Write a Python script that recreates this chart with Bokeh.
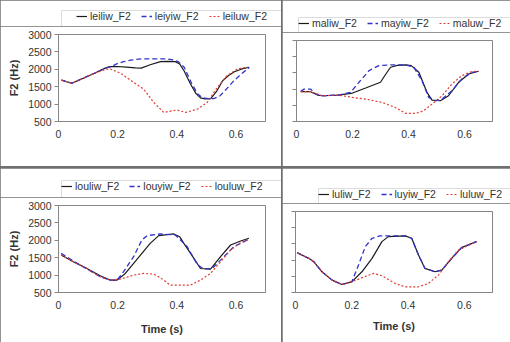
from bokeh.plotting import figure
from bokeh.models import Range1d, FixedTicker, Legend, LegendItem
from bokeh.layouts import column, row
from bokeh.embed import file_html
from bokeh.resources import INLINE

# ---------------- data ----------------
x_ticks = [0, 0.2, 0.4, 0.6]
y_ticks = [500, 1000, 1500, 2000, 2500, 3000]

# lei panel
lei_iw_t = [0.01,0.045,0.08,0.12,0.16,0.175,0.2,0.23,0.26,0.28,0.31,0.345,0.37,0.395,0.41,0.425,0.445,0.465,0.48,0.495,0.515,0.535,0.555,0.575,0.595,0.62,0.645]
lei_iw   = [1690,1600,1730,1880,2040,2075,2080,2060,2040,2035,2130,2220,2230,2220,2150,1950,1600,1300,1180,1150,1160,1370,1670,1820,1930,2010,2060]
lei_yi_t = [0.01,0.045,0.08,0.12,0.16,0.18,0.2,0.22,0.25,0.28,0.32,0.367,0.39,0.405,0.425,0.45,0.47,0.485,0.505,0.525,0.545,0.57,0.593,0.62,0.645]
lei_yi   = [1690,1600,1730,1880,2040,2080,2170,2220,2270,2300,2300,2300,2270,2220,2060,1600,1300,1190,1160,1160,1230,1450,1670,1880,2050]
lei_lu_t = [0.01,0.045,0.08,0.12,0.16,0.175,0.21,0.254,0.288,0.322,0.356,0.38,0.40,0.43,0.47,0.503,0.537,0.57,0.605,0.64]
lei_lu   = [1690,1600,1730,1880,2000,2010,1885,1625,1430,1050,760,800,830,760,856,1050,1480,1817,2010,2060]

# ma panel
ma_iw_t = [0.015,0.05,0.075,0.093,0.15,0.2,0.247,0.3,0.318,0.336,0.36,0.39,0.41,0.437,0.466,0.484,0.514,0.543,0.579,0.615,0.65]
ma_iw   = [1420,1420,1316,1295,1316,1378,1533,1710,1950,2174,2230,2246,2226,2019,1400,1161,1140,1295,1710,1967,2050]
ma_yi_t = [0.015,0.027,0.05,0.069,0.093,0.15,0.193,0.223,0.259,0.294,0.33,0.39,0.419,0.448,0.472,0.496,0.52,0.555,0.59,0.626,0.65]
ma_yi   = [1430,1500,1500,1347,1295,1316,1400,1710,2070,2225,2246,2246,2174,1760,1244,1140,1192,1450,1810,2019,2050]
ma_lu_t = [0.015,0.05,0.093,0.15,0.2,0.247,0.306,0.353,0.39,0.425,0.454,0.484,0.52,0.555,0.59,0.626,0.65]
ma_lu   = [1420,1420,1295,1316,1244,1192,1089,934,748,748,830,1037,1295,1657,1915,2040,2050]

# lou panel
lou_iw_t = [0.009,0.05,0.096,0.141,0.175,0.198,0.226,0.266,0.31,0.339,0.39,0.41,0.424,0.458,0.48,0.514,0.548,0.582,0.616,0.644]
lou_iw   = [1577,1385,1190,981,856,856,1048,1462,1913,2135,2183,2100,1913,1481,1190,1173,1530,1865,1980,2058]
lou_yi_t = [0.009,0.05,0.096,0.141,0.175,0.198,0.22,0.254,0.282,0.3,0.345,0.395,0.435,0.469,0.49,0.52,0.554,0.593,0.644]
lou_yi   = [1625,1404,1180,952,856,856,1096,1529,2010,2135,2183,2154,1817,1308,1173,1192,1481,1817,2030]
lou_lu_t = [0.009,0.05,0.096,0.141,0.175,0.209,0.254,0.288,0.322,0.345,0.378,0.412,0.446,0.48,0.514,0.548,0.582,0.616,0.644]
lou_lu   = [1577,1385,1190,952,856,885,1000,1048,1029,923,712,712,712,856,1048,1385,1721,1933,2030]

# lu panel
lu_iw_t = [0.006,0.047,0.065,0.094,0.13,0.165,0.2,0.236,0.272,0.307,0.33,0.39,0.413,0.437,0.46,0.496,0.52,0.555,0.59,0.643]
lu_iw   = [1729,1554,1450,1140,882,748,830,1140,1554,2070,2225,2246,2174,1657,1244,1140,1192,1554,1884,2070]
lu_yi_t = [0.006,0.047,0.065,0.094,0.13,0.165,0.2,0.224,0.248,0.272,0.3,0.39,0.413,0.437,0.46,0.496,0.52,0.555,0.59,0.643]
lu_yi   = [1729,1554,1450,1140,882,748,830,1347,1915,2174,2246,2246,2174,1657,1244,1140,1192,1554,1884,2070]
lu_lu_t = [0.006,0.047,0.065,0.094,0.13,0.165,0.2,0.236,0.277,0.307,0.354,0.39,0.437,0.472,0.508,0.543,0.579,0.643]
lu_lu   = [1729,1554,1450,1140,882,748,830,954,1089,1017,779,676,676,779,1037,1450,1810,2070]

FONT = "Liberation Sans"
TXT = "#333333"
AX = "#868686"

STYLES = [
    dict(line_color="#1a1a1a", line_width=1.2, line_dash="solid"),
    dict(line_color="#3333cc", line_width=1.3, line_dash="5 3"),
    dict(line_color="#e03c31", line_width=1.2, line_dash="2 2"),
]


def make_legend_fig(w, h, series, names, left, top, loc="top_left"):
    # a strip that only shows the legend; its lines lie outside its visible range
    q = figure(width=w, height=h, output_backend="svg", toolbar_location=None,
               x_range=Range1d(0, 0.7), y_range=Range1d(-20, -10),
               x_axis_location=None, y_axis_location=None,
               min_border_left=left, min_border_top=top, min_border_right=0, min_border_bottom=0,
               background_fill_color="white", border_fill_color="white")
    q.outline_line_color = None
    q.xgrid.visible = False
    q.ygrid.visible = False
    items = []
    for (tt, yy), nm, st in zip(series, names, STYLES):
        r = q.line(tt, yy, **st)
        items.append(LegendItem(label=nm, renderers=[r]))
    leg = Legend(items=items, location=loc, orientation="horizontal",
                 glyph_width=11, glyph_height=12, label_height=12,
                 label_standoff=3, spacing=10, padding=0, margin=0,
                 border_line_color=None, background_fill_alpha=0,
                 label_text_font=FONT, label_text_font_size="10.5px",
                 label_text_color=TXT)
    q.add_layout(leg, "center")
    return q


def make_panel(w, h, ml, mr, mt, mb, series, show_ylabels, show_xlabel, xlab_standoff=10):
    p = figure(width=w, height=h, output_backend="svg", toolbar_location=None,
               x_range=Range1d(0, 0.7), y_range=Range1d(500, 3000),
               min_border_left=ml, min_border_right=mr, min_border_top=mt, min_border_bottom=mb,
               background_fill_color="white", border_fill_color="white")
    p.outline_line_color = AX
    p.outline_line_width = 1
    p.xgrid.visible = False
    p.ygrid.visible = False

    p.xaxis.ticker = FixedTicker(ticks=x_ticks)
    p.xaxis.major_label_overrides = {0: "0", 0.2: "0.2", 0.4: "0.4", 0.6: "0.6"}
    p.xaxis.major_tick_out = 0
    p.xaxis.major_tick_in = 0
    p.xaxis.minor_tick_out = 0
    p.xaxis.minor_tick_in = 0
    p.xaxis.major_label_standoff = 8
    p.xaxis.axis_line_color = AX

    p.yaxis.ticker = FixedTicker(ticks=y_ticks)
    p.yaxis.major_tick_out = 4
    p.yaxis.major_tick_in = 0
    p.yaxis.minor_tick_out = 0
    p.yaxis.minor_tick_in = 0
    p.yaxis.major_tick_line_color = AX
    p.yaxis.axis_line_color = AX
    p.yaxis.major_label_standoff = 3

    for ax in (p.xaxis, p.yaxis):
        ax.major_label_text_font = FONT
        ax.major_label_text_font_size = "10.5px"
        ax.major_label_text_color = TXT
        ax.axis_label_text_font = FONT
        ax.axis_label_text_font_size = "11px"
        ax.axis_label_text_font_style = "bold"
        ax.axis_label_text_color = TXT

    if show_ylabels:
        p.yaxis.axis_label = "F2 (Hz)"
        p.yaxis.axis_label_standoff = 5
    else:
        p.yaxis.major_label_overrides = {t: "" for t in y_ticks}
        p.yaxis.major_label_standoff = 0

    if show_xlabel:
        p.xaxis.axis_label = "Time (s)"
        p.xaxis.axis_label_standoff = xlab_standoff

    for (tt, yy), st in zip(series, STYLES):
        p.line(tt, yy, **st)
    return p


s1 = [(lei_iw_t, lei_iw), (lei_yi_t, lei_yi), (lei_lu_t, lei_lu)]
s2 = [(ma_iw_t, ma_iw), (ma_yi_t, ma_yi), (ma_lu_t, ma_lu)]
s3 = [(lou_iw_t, lou_iw), (lou_yi_t, lou_yi), (lou_lu_t, lou_lu)]
s4 = [(lu_iw_t, lu_iw), (lu_yi_t, lu_yi), (lu_lu_t, lu_lu)]

l1 = make_legend_fig(281, 26, s1, ["leiliw_F2", "leiyiw_F2", "leiluw_F2"], 61, 10, (15, 4))
p1 = make_panel(281, 140, 58, 16, 8, 45, s1, True, False)
l2 = make_legend_fig(228, 32, s2, ["maliw_F2", "mayiw_F2", "maluw_F2"], 16, 17)
p2 = make_panel(228, 134, 14, 18, 8, 45, s2, False, False)
l3 = make_legend_fig(281, 29, s3, ["louliw_F2", "louyiw_F2", "louluw_F2"], 61, 12)
p3 = make_panel(281, 145, 58, 16, 8, 50, s3, True, True, 11)
l4 = make_legend_fig(228, 35, s4, ["luliw_F2", "luyiw_F2", "luluw_F2"], 36, 20)
p4 = make_panel(228, 139, 13, 18, 8, 50, s4, False, True, 8)


def quad(lg, pl):
    return column(row(lg), row(pl))


layout = column(row(quad(l1, p1), quad(l2, p2), spacing=1),
                row(quad(l3, p3), quad(l4, p4), spacing=1), spacing=2,
                styles={"background-color": "#707070"})

open("out.html", "w").write(file_html(layout, INLINE))
